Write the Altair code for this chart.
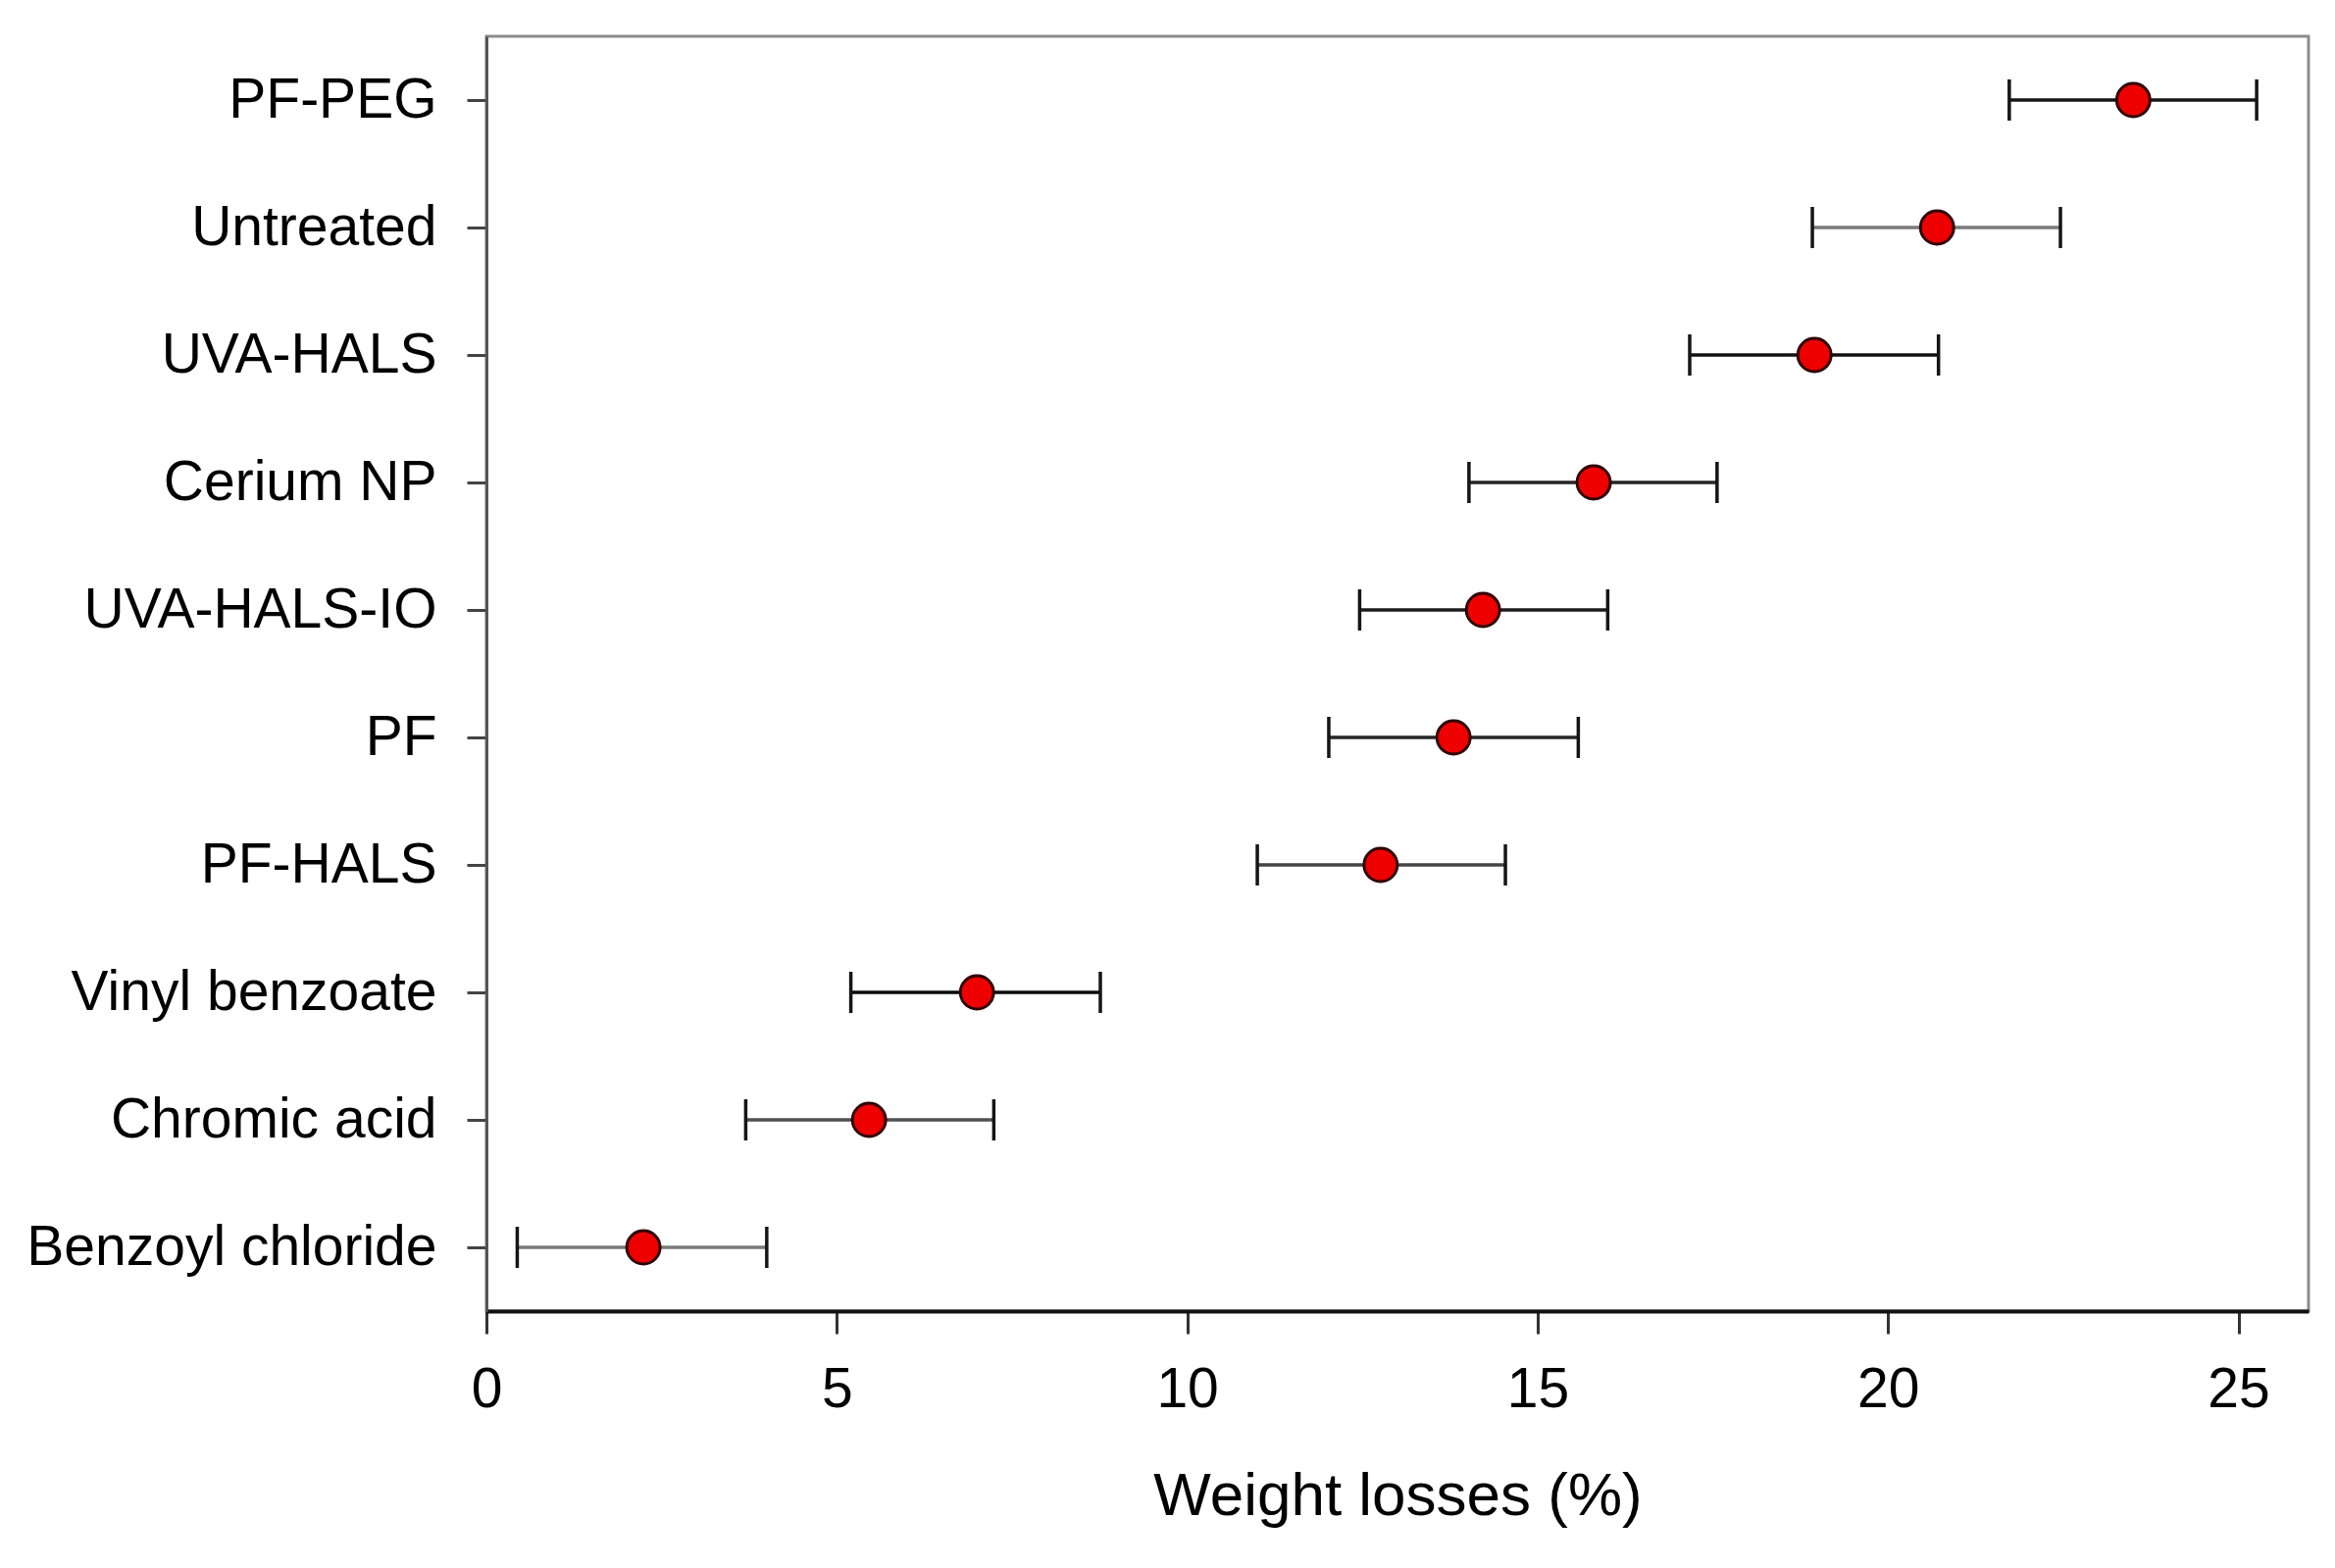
import altair as alt
import pandas as pd

categories = ["PF-PEG", "Untreated", "UVA-HALS", "Cerium NP", "UVA-HALS-IO",
              "PF", "PF-HALS", "Vinyl benzoate", "Chromic acid", "Benzoyl chloride"]
means = [23.50, 20.70, 18.95, 15.80, 14.22, 13.80, 12.76, 7.00, 5.46, 2.24]
lower = [21.73, 18.92, 17.17, 14.02, 12.46, 12.02, 11.00, 5.20, 3.70, 0.44]
upper = [25.26, 22.46, 20.72, 17.56, 16.00, 15.58, 14.54, 8.76, 7.24, 4.00]
x_ticks = [0, 5, 10, 15, 20, 25]

# style: colour of each horizontal error line (as in the scanned figure)
line_colors = ["#161616", "#7a7a7a", "#111111", "#262626", "#1c1c1c",
               "#262626", "#444444", "#0c0c0c", "#505050", "#7a7a7a"]

df = pd.DataFrame({"cat": categories, "mean": means, "lo": lower, "hi": upper})

FONT = "Liberation Sans"

xs = alt.Scale(domain=[0, 26], nice=False, zero=False)
x_axis = alt.Axis(values=x_ticks, title="Weight losses (%)", grid=False,
                  labelFontSize=57, titleFontSize=62, titleFontWeight="normal",
                  labelFont=FONT, titleFont=FONT, labelColor="black", titleColor="black",
                  labelFlush=False, labelOverlap=False,
                  tickSize=23, tickWidth=3, tickColor="#333333",
                  domainColor="#111111", domainWidth=4,
                  labelPadding=29, titlePadding=50)
ys = alt.Scale(type="point", padding=0.5)
y_axis = alt.Axis(title=None, grid=False, labelFontSize=57, labelFont=FONT,
                  labelColor="black", labelLimit=800, tickSize=20, tickWidth=3,
                  tickColor="#444444", domainColor="#555555", domainWidth=3,
                  labelPadding=31)
Y = alt.Y("cat:N", sort=categories, scale=ys, axis=y_axis)

base = alt.Chart(df)

lines = base.mark_rule(strokeWidth=3.5).encode(
    x=alt.X("lo:Q", scale=xs, axis=x_axis),
    x2="hi:Q",
    y=Y,
    color=alt.Color("cat:N", scale=alt.Scale(domain=categories, range=line_colors), legend=None),
)
cap_lo = base.mark_tick(size=42, thickness=3.5, color="#151515", opacity=1).encode(
    x=alt.X("lo:Q", scale=xs, axis=x_axis), y=Y)
cap_hi = base.mark_tick(size=42, thickness=3.5, color="#151515", opacity=1).encode(
    x=alt.X("hi:Q", scale=xs, axis=x_axis), y=Y)
pts = base.mark_circle(size=1150, color="#ee0000", stroke="#300000", strokeWidth=3, opacity=1).encode(
    x=alt.X("mean:Q", scale=xs, axis=x_axis), y=Y)

chart = alt.layer(lines, cap_lo, cap_hi, pts).properties(
    width=1858, height=1300,
    padding={"left": 18, "top": 29, "right": 5, "bottom": 5},
    background="white",
).configure_view(stroke="#8c8c8c", strokeWidth=3)

chart.save("out.html", embed_options={"renderer": "svg", "actions": False})
